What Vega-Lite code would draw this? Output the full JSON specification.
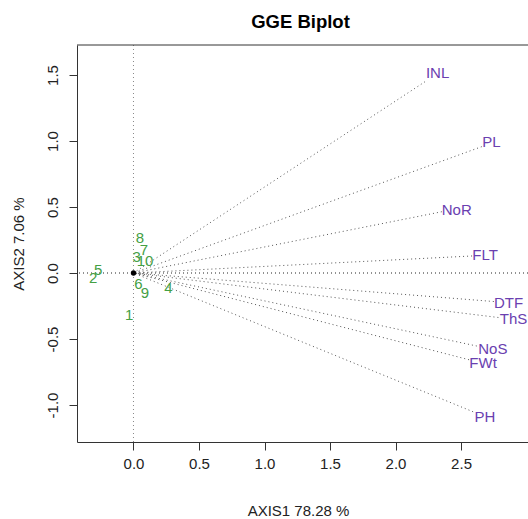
{
  "$schema": "https://vega.github.io/schema/vega-lite/v6.json",
  "autosize": "none",
  "padding": {"left": 77, "top": 45, "right": 0, "bottom": 77},
  "width": 451,
  "height": 397,
  "title": {"text": "GGE Biplot", "font": "Liberation Sans", "fontSize": 18.5, "fontWeight": "bold", "color": "#000", "anchor": "middle", "offset": 20, "baseline": "alphabetic", "dx": -2, "dy": 22},
  "config": {
    "locale": {"number": {"decimal": ".", "thousands": ",", "grouping": [3], "currency": ["$", ""], "minus": "-"}},
    "view": {"stroke": null},
    "axis": {"labelFont": "Liberation Sans", "titleFont": "Liberation Sans", "labelFontSize": 15, "titleFontSize": 15, "titleFontWeight": "normal", "labelColor": "#222", "titleColor": "#222", "domainColor": "#333", "tickColor": "#333", "grid": false, "tickSize": 8}
  },
  "datasets": {
    "genotypes": [
      {"g": "1", "x": -0.032, "y": -0.318},
      {"g": "2", "x": -0.307, "y": -0.040},
      {"g": "3", "x": 0.024, "y": 0.123},
      {"g": "4", "x": 0.266, "y": -0.116},
      {"g": "5", "x": -0.269, "y": 0.023},
      {"g": "6", "x": 0.037, "y": -0.086},
      {"g": "7", "x": 0.080, "y": 0.174},
      {"g": "8", "x": 0.050, "y": 0.263},
      {"g": "9", "x": 0.088, "y": -0.154},
      {"g": "10", "x": 0.088, "y": 0.091}
    ],
    "traits": [
      {"trait": "INL", "x": 2.225, "y": 1.449, "lx": 2.321, "ly": 1.513},
      {"trait": "PL", "x": 2.658, "y": 0.957, "lx": 2.731, "ly": 0.995},
      {"trait": "NoR", "x": 2.353, "y": 0.464, "lx": 2.467, "ly": 0.477},
      {"trait": "FLT", "x": 2.584, "y": 0.129, "lx": 2.683, "ly": 0.133},
      {"trait": "DTF", "x": 2.75, "y": -0.216, "lx": 2.863, "ly": -0.225},
      {"trait": "ThS", "x": 2.785, "y": -0.337, "lx": 2.901, "ly": -0.351},
      {"trait": "NoS", "x": 2.62, "y": -0.553, "lx": 2.743, "ly": -0.578},
      {"trait": "FWt", "x": 2.561, "y": -0.657, "lx": 2.668, "ly": -0.684},
      {"trait": "PH", "x": 2.592, "y": -1.051, "lx": 2.683, "ly": -1.089}
    ],
    "origin": [{"x": 0, "y": 0, "top": 1.727}]
  },
  "layer": [
    {
      "data": {"name": "origin"},
      "mark": {"type": "rule", "color": "#888", "strokeDash": [1, 3], "strokeWidth": 1},
      "encoding": {
        "x": {"field": "x", "type": "quantitative", "title": "AXIS1 78.28 %",
              "scale": {"domain": [-0.431, 3.011], "nice": false, "zero": false},
              "axis": {"values": [0, 0.5, 1, 1.5, 2, 2.5], "format": ".1f", "labelBaseline": "alphabetic", "labelPadding": 18.7, "titleBaseline": "alphabetic", "titleY": 73.5, "titleX": 221, "titleAlign": "center"}}
      }
    },
    {
      "data": {"name": "origin"},
      "mark": {"type": "rule", "color": "#222", "strokeDash": [1, 3], "strokeWidth": 1},
      "encoding": {
        "y": {"field": "y", "type": "quantitative", "title": "AXIS2 7.06 %",
              "scale": {"domain": [-1.28, 1.727], "nice": false, "zero": false},
              "axis": {"values": [-1, -0.5, 0, 0.5, 1, 1.5], "format": ".1f", "labelAngle": -90, "labelAlign": "center", "labelBaseline": "alphabetic", "labelPadding": 12, "titleAngle": -90, "titleBaseline": "alphabetic", "titleX": -54, "titleY": 198.5, "titleAlign": "center"}}
      }
    },
    {
      "data": {"name": "origin"},
      "mark": {"type": "rule", "color": "#333", "strokeWidth": 1},
      "encoding": {
        "y": {"field": "top", "type": "quantitative", "title": "AXIS2 7.06 %"}
      }
    },
    {
      "data": {"name": "traits"},
      "mark": {"type": "rule", "color": "#555", "strokeDash": [1, 3], "strokeWidth": 1},
      "encoding": {
        "x": {"field": "x", "type": "quantitative", "title": "AXIS1 78.28 %"},
        "y": {"field": "y", "type": "quantitative", "title": "AXIS2 7.06 %"},
        "x2": {"datum": 0},
        "y2": {"datum": 0}
      }
    },
    {
      "data": {"name": "traits"},
      "mark": {"type": "text", "font": "Liberation Sans", "fontSize": 15, "color": "#6a40b0", "align": "center", "baseline": "middle"},
      "encoding": {
        "x": {"field": "lx", "type": "quantitative", "title": "AXIS1 78.28 %"},
        "y": {"field": "ly", "type": "quantitative", "title": "AXIS2 7.06 %"},
        "text": {"field": "trait"}
      }
    },
    {
      "data": {"name": "genotypes"},
      "mark": {"type": "text", "font": "Liberation Sans", "fontSize": 15, "color": "#44a044", "align": "center", "baseline": "middle"},
      "encoding": {
        "x": {"field": "x", "type": "quantitative", "title": "AXIS1 78.28 %"},
        "y": {"field": "y", "type": "quantitative", "title": "AXIS2 7.06 %"},
        "text": {"field": "g"}
      }
    },
    {
      "data": {"name": "origin"},
      "mark": {"type": "point", "filled": true, "color": "#000", "size": 28, "opacity": 1, "shape": "circle"},
      "encoding": {
        "x": {"field": "x", "type": "quantitative", "title": "AXIS1 78.28 %"},
        "y": {"field": "y", "type": "quantitative", "title": "AXIS2 7.06 %"}
      }
    }
  ]
}
